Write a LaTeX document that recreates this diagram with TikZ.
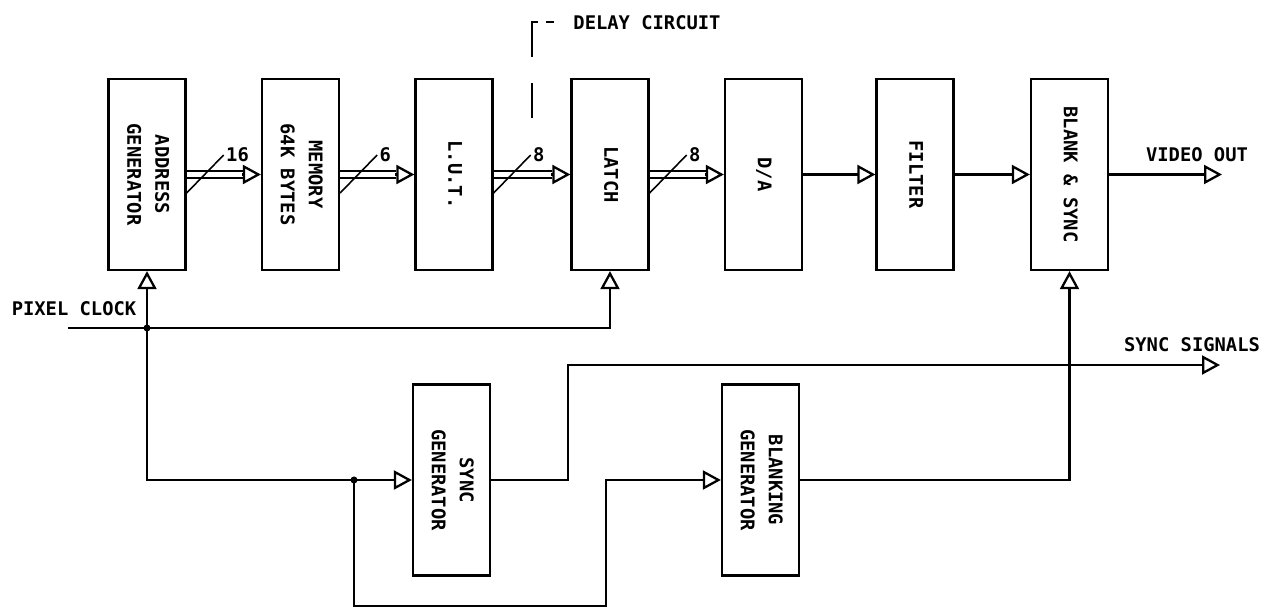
\documentclass[tikz,border=0pt]{standalone}
\usepackage{fontspec}
\setmonofont{DejaVu Sans Mono}
\usepackage{graphicx}
\usetikzlibrary{arrows.meta,calc}
\newcommand{\vlbl}[1]{\rotatebox{-90}{\begin{tabular}{@{}c@{}}#1\end{tabular}}}

\begin{document}
\begin{tikzpicture}[x=0.02cm,y=-0.02cm,line width=1.3pt,
      every node/.style={font=\ttfamily\bfseries\fontsize{10.7}{16}\selectfont},
      box/.style={draw,minimum width=1.54cm,minimum height=3.82cm,inner sep=0pt},
      sig/.style={-{Triangle[open,length=0.36cm,width=0.38cm]}},
      bus/.style={double,double distance=3.4pt,line width=1.1pt}]
    \useasboundingbox (0,0) rectangle (1264,612);
    \node[box] (adr) at (147,174.5) {\vlbl{ADDRESS\\GENERATOR}};
    \node[box] (mem) at (300.5,174.5) {\vlbl{MEMORY\\64K BYTES}};
    \node[box] (lut) at (454,174.5) {\vlbl{L.U.T.}};
    \node[box] (latch) at (610,174.5) {\vlbl{LATCH}};
    \node[box] (da) at (763.5,174.5) {\vlbl{D/A}};
    \node[box] (filt) at (915,174.5) {\vlbl{FILTER}};
    \node[box] (bs) at (1069.5,174.5) {\vlbl{BLANK \& SYNC}};
    \node[box] (sgen) at (451.5,480) {\vlbl{SYNC\\GENERATOR}};
    \node[box] (bgen) at (760.5,480) {\vlbl{BLANKING\\GENERATOR}};
    \node (dly) at (647,23) {DELAY CIRCUIT};
    \node (clk) at (74,309) {PIXEL CLOCK};
    \node (vid) at (1197,155) {VIDEO OUT};
    \node (syn) at (1192,345) {SYNC SIGNALS};
    \coordinate (clkin) at (68,328);
    \coordinate (j1) at (adr.south |- clkin);
    \coordinate (j2) at (354,480);
    \coordinate (vout) at (1222,174.5);
    \coordinate (sout) at (1220,365);
    \foreach \a/\b/\n in {adr/mem/16,mem/lut/6,lut/latch/8,latch/da/8}{
      \draw[bus] (\a.east) -- ([xshift=-0.36cm]\b.west);
      \draw[sig] ([xshift=-0.38cm]\b.west) -- (\b.west);
      \draw[line width=0.9pt] ($(\a.east)+(0,18.5)$) -- ++(37,-38) node[anchor=west,inner sep=1pt] {\n};
    }
    \draw[sig] (da) -- (filt);
    \draw[sig] (filt) -- (bs);
    \draw[sig] (bs) -- (vout);
    \draw[sig] (clkin) -| (latch.south);
    \draw[sig] (j1) -- (adr.south);
    \draw[sig] (j1) |- (sgen.west);
    \draw[sig] (j2) |- (606,606) |- (bgen.west);
    \draw[sig] (sgen.east) -- ++(77,0) |- (sout);
    \draw[sig] (bgen.east) -| (bs.south);
    \fill (j1) circle (2pt);
    \fill (j2) circle (2pt);
    \draw (532,118) -- (532,83);
    \draw (532,57) |- (538,22);
    \draw (546,22) -- (554,22);
  \end{tikzpicture}
\end{document}
